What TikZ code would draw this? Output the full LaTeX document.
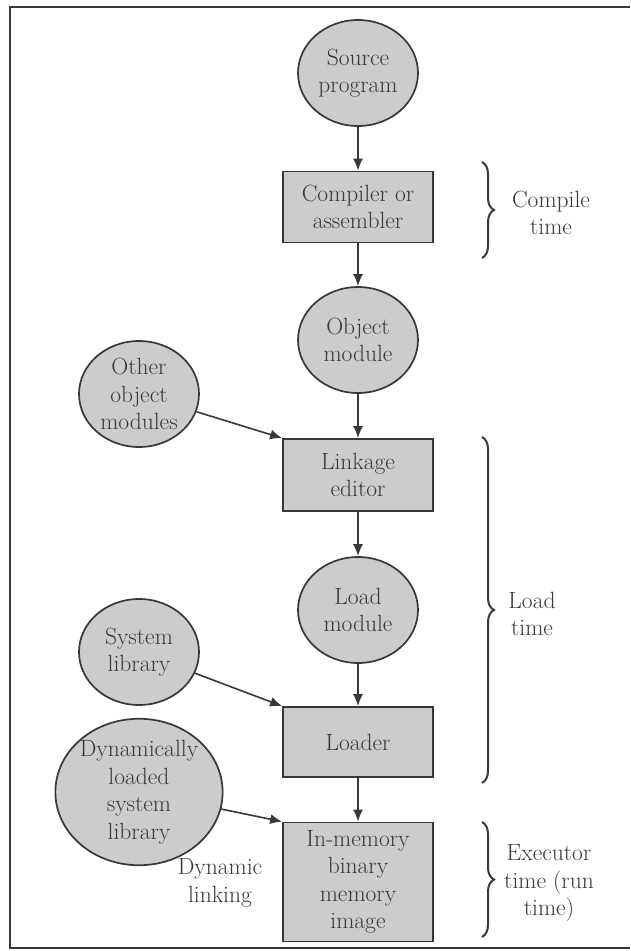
\documentclass[tikz,border=0pt]{standalone}
\usetikzlibrary{arrows.meta,decorations.pathreplacing,shapes.geometric}

\definecolor{fillgray}{gray}{0.8}
\definecolor{inkgray}{gray}{0.22}

\begin{document}
\begin{tikzpicture}[x=1pt, y=-1pt,
		every node/.style={font=\fontsize{23.5}{27.5}\selectfont, text=inkgray, align=center},
		module/.style={ellipse, draw=inkgray, fill=fillgray, line width=1.7pt, minimum width=120pt, minimum height=106pt, inner sep=0pt},
		tool/.style={rectangle, draw=inkgray, fill=fillgray, line width=1.7pt, minimum width=150pt, minimum height=71pt},
		flow/.style={-{Latex[length=12pt,width=10pt]}, draw=inkgray, line width=1.6pt},
		timebrace/.style={decorate, decoration={brace, amplitude=12pt}, draw=inkgray, line width=2pt}]
		\useasboundingbox (0,0) rectangle (630,951);
		
		% Page frame
		\draw[inkgray, line width=1.2pt] (630,7) -- (10,7) -- (10,948) -- (630,948);
		
		% Main column
		\node[module] (src) at (358,73) {Source\\program};
		\node[tool] (comp) at (358,207) {Compiler or\\assembler};
		\node[module] (obj) at (358,340) {Object\\module};
		\node[tool, minimum height=72pt] (link) at (358,475) {Linkage\\editor};
		\node[module] (loadmod) at (358,610) {Load\\module};
		\node[tool, minimum height=70pt] (loader) at (358,742) {Loader};
		\node[tool, minimum height=119pt] (mem) at (358,882) {In-memory\\binary\\memory\\image};
		
		% Side inputs
		\node[module] (other) at (139,394) {Other\\object\\modules};
		\node[module] (syslib) at (139,652) {System\\library};
		\node[module, minimum width=154pt, minimum height=142pt] (dynlib) at (139,792) {Dynamically\\loaded\\system\\library};
		\node (dynlink) at (220,883) {Dynamic\\linking};
		
		% Draw arrows
		\draw[flow] (src) -- (comp);
		\draw[flow] (comp) -- (obj);
		\draw[flow] (obj) -- (link);
		\draw[flow] (link) -- (loadmod);
		\draw[flow] (loadmod) -- (loader);
		\draw[flow] (loader) -- (mem);
		\draw[flow] (other) -- (link.north west);
		\draw[flow] (syslib) -- (loader.north west);
		\draw[flow] (dynlib) -- (mem.north west);
		
		% Time braces
		\coordinate (ctop) at (482,162);
		\coordinate (cbot) at (482,258);
		\coordinate (ltop) at (482,437);
		\coordinate (lbot) at (482,783);
		\coordinate (etop) at (482,822);
		\coordinate (ebot) at (482,937);
		\draw[timebrace] (ctop) -- (cbot);
		\draw[timebrace] (ltop) -- (lbot);
		\draw[timebrace] (etop) -- (ebot);
		\node (ctime) at (551,213) {Compile\\time};
		\node (ltime) at (532,614) {Load\\time};
		\node (etime) at (549,883) {Executor\\time (run\\time)};
	\end{tikzpicture}
\end{document}
